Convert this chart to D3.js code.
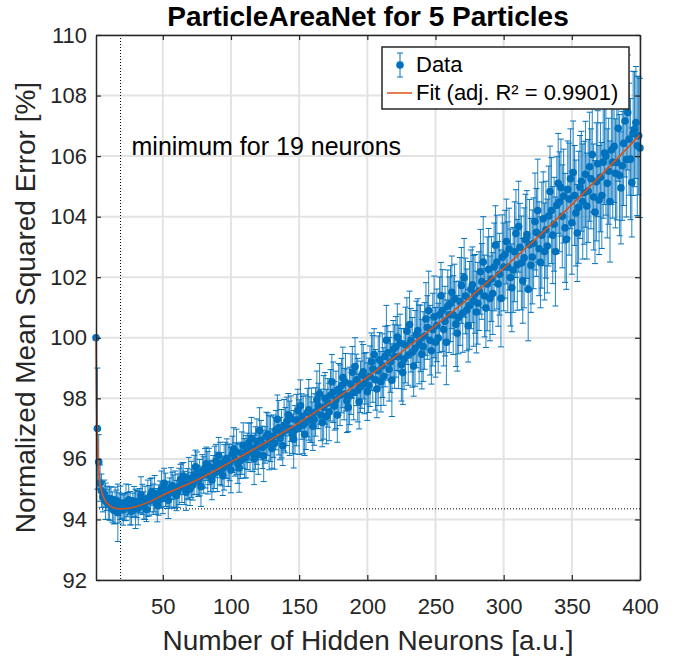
<!DOCTYPE html>
<html>
<head>
<meta charset="utf-8">
<script src="https://cdn.jsdelivr.net/npm/d3@7"></script>
<style>
  body { margin: 0; background: #fff; }
  svg { font-family: "Liberation Sans", Arial, sans-serif; }
</style>
</head>
<body>
<svg id="vis"></svg>
<script>
// hidden neuron counts 1..400
const neurons = d3.range(1, 401);

// mean normalized MSE [%] (rows of 10 neurons)
const mse = [
  100.00, 97.00, 95.90, 95.20, 94.95, 94.75, 94.85, 94.60, 94.70, 94.50,
  94.52, 94.68, 94.41, 94.30, 94.47, 94.62, 94.22, 94.38, 94.55, 94.44,
  94.31, 94.41, 94.57, 94.49, 94.65, 94.37, 94.27, 94.47, 94.59, 94.35,
  94.51, 94.37, 94.62, 94.81, 94.66, 94.46, 94.55, 94.33, 94.70, 94.62,
  94.80, 94.92, 94.67, 94.85, 94.57, 94.47, 94.64, 94.82, 95.00, 94.69,
  95.19, 94.98, 94.81, 94.63, 94.87, 95.06, 95.11, 94.92, 95.00, 94.79,
  94.95, 95.09, 95.32, 95.21, 95.43, 95.04, 94.90, 95.18, 95.35, 95.01,
  95.32, 95.14, 95.47, 95.74, 95.53, 95.26, 95.38, 95.08, 95.59, 95.47,
  95.69, 95.84, 95.54, 95.75, 95.42, 95.30, 95.51, 95.72, 95.93, 95.57,
  96.11, 95.85, 95.66, 95.44, 95.72, 95.95, 96.01, 95.79, 95.88, 95.63,
  96.15, 96.33, 95.98, 96.23, 95.84, 95.70, 95.95, 96.19, 96.44, 96.02,
  96.07, 96.25, 96.53, 96.39, 96.67, 96.18, 96.00, 96.36, 96.57, 96.14,
  96.94, 96.62, 96.38, 96.10, 96.46, 96.74, 96.82, 96.54, 96.66, 96.34,
  96.75, 96.51, 96.95, 97.31, 97.03, 96.67, 96.83, 96.43, 97.11, 96.95,
  97.24, 97.46, 97.01, 97.33, 96.83, 96.65, 96.96, 97.28, 97.60, 97.05,
  97.76, 97.40, 97.12, 96.81, 97.21, 97.53, 97.62, 97.30, 97.44, 97.08,
  97.30, 97.55, 97.95, 97.75, 98.15, 97.45, 97.20, 97.70, 98.00, 97.40,
  97.85, 97.55, 98.10, 98.55, 98.20, 97.75, 97.95, 97.45, 98.30, 98.10,
  98.42, 98.69, 98.14, 98.53, 97.92, 97.70, 98.08, 98.47, 98.86, 98.19,
  99.05, 98.61, 98.27, 97.89, 98.38, 98.77, 98.88, 98.49, 98.66, 98.22,
  98.43, 98.73, 99.21, 98.97, 99.45, 98.61, 98.31, 98.91, 99.27, 98.55,
  99.08, 98.72, 99.38, 99.92, 99.50, 98.96, 99.20, 98.60, 99.62, 99.38,
  99.70, 100.02, 99.37, 99.83, 99.11, 98.85, 99.30, 99.76, 100.22, 99.43,
  100.44, 99.92, 99.52, 99.07, 99.65, 100.11, 100.24, 99.78, 99.98, 99.46,
  99.71, 100.06, 100.62, 100.34, 100.90, 99.92, 99.57, 100.27, 100.69, 99.85,
  100.41, 99.99, 100.76, 101.39, 100.90, 100.27, 100.55, 99.85, 101.04, 100.76,
  101.13, 101.50, 100.75, 101.28, 100.45, 100.15, 100.67, 101.20, 101.73, 100.82,
  101.98, 101.38, 100.92, 100.40, 101.07, 101.60, 101.75, 101.22, 101.45, 100.85,
  101.14, 101.54, 102.18, 101.86, 102.50, 101.38, 100.98, 101.78, 102.26, 101.30,
  101.94, 101.46, 102.34, 103.06, 102.50, 101.78, 102.10, 101.30, 102.66, 102.34,
  102.76, 103.18, 102.33, 102.93, 101.99, 101.65, 102.24, 102.84, 103.44, 102.41,
  103.67, 102.99, 102.47, 101.88, 102.64, 103.24, 103.41, 101.60, 103.07, 102.39,
  102.67, 103.12, 103.84, 103.48, 104.20, 102.94, 102.49, 103.39, 103.93, 102.85,
  103.57, 103.03, 104.02, 104.83, 104.20, 103.39, 103.75, 102.85, 104.38, 105.10,
  104.49, 104.96, 104.01, 104.68, 103.63, 103.25, 104.90, 104.58, 105.25, 103.80,
  105.46, 104.70, 104.12, 103.46, 104.31, 104.98, 105.17, 104.50, 104.79, 105.40,
  104.35, 104.85, 105.65, 105.25, 106.05, 104.65, 104.15, 105.15, 105.75, 104.55,
  105.30, 104.70, 105.80, 106.10, 106.00, 105.10, 105.50, 104.50, 106.20, 105.80,
  106.32, 105.43, 105.79, 106.92, 105.37, 104.95, 105.68, 106.42, 107.16, 105.89,
  107.44, 106.56, 105.90, 105.13, 106.75, 106.89, 107.11, 106.34, 106.67, 106.27
];

// half length of each error bar [%]
const mseErr = [
  0.00, 2.00, 0.90, 0.60, 0.55, 0.50, 0.45, 0.60, 0.40, 0.50,
  0.55, 0.40, 0.50, 0.45, 0.60, 0.35, 0.95, 0.50, 0.55, 0.40,
  0.50, 0.45, 0.60, 0.40, 0.50, 0.55, 0.45, 0.40, 0.50, 0.65,
  0.45, 0.55, 0.40, 0.60, 0.50, 0.45, 0.55, 0.40, 0.60, 0.50,
  0.55, 0.45, 0.50, 0.60, 0.40, 0.55, 0.50, 0.45, 0.60, 0.50,
  0.50, 0.55, 0.45, 0.60, 0.50, 0.65, 0.45, 0.55, 0.60, 0.50,
  0.55, 0.60, 0.50, 0.65, 0.45, 0.55, 0.60, 0.50, 0.70, 0.55,
  0.60, 0.50, 0.65, 0.55, 0.70, 0.50, 0.60, 0.65, 0.55, 0.60,
  0.65, 0.55, 0.70, 0.60, 0.50, 0.65, 0.60, 0.70, 0.55, 0.65,
  0.60, 0.70, 0.55, 0.65, 0.75, 0.60, 0.65, 0.70, 0.60, 0.75,
  0.60, 0.70, 0.55, 0.75, 0.65, 0.80, 0.60, 0.70, 0.75, 0.65,
  0.70, 0.60, 0.65, 0.80, 0.70, 0.60, 0.85, 0.70, 0.75, 0.65,
  0.75, 0.65, 0.70, 0.85, 0.60, 0.80, 0.70, 0.90, 0.75, 0.65,
  0.70, 0.85, 0.65, 0.80, 0.90, 0.70, 0.80, 0.65, 0.85, 0.75,
  0.80, 0.70, 0.90, 0.75, 0.65, 0.95, 0.80, 0.85, 0.70, 0.90,
  0.85, 0.75, 0.95, 0.70, 0.90, 0.80, 1.00, 0.75, 0.90, 0.80,
  0.85, 0.80, 0.95, 0.75, 1.00, 0.85, 0.80, 1.05, 0.85, 0.90,
  0.80, 0.95, 0.85, 0.90, 1.00, 0.80, 0.95, 0.90, 0.85, 1.00,
  0.90, 1.00, 0.85, 0.95, 1.05, 0.80, 0.95, 1.00, 0.85, 0.90,
  0.95, 0.85, 1.05, 0.90, 0.85, 1.10, 0.90, 1.00, 0.85, 0.95,
  0.90, 1.00, 0.95, 1.10, 0.85, 1.00, 0.95, 1.15, 0.90, 1.00,
  1.05, 0.95, 1.00, 1.15, 0.90, 1.05, 1.00, 1.20, 0.95, 1.05,
  1.00, 1.10, 1.05, 0.95, 1.20, 1.05, 1.00, 1.25, 1.10, 1.00,
  1.10, 1.05, 1.15, 1.00, 1.25, 1.10, 1.05, 1.30, 1.10, 1.15,
  1.15, 1.10, 1.20, 1.05, 1.30, 1.15, 1.10, 1.20, 1.35, 1.15,
  1.20, 1.15, 1.25, 1.10, 1.35, 1.20, 1.15, 1.40, 1.20, 1.25,
  1.25, 1.20, 1.30, 1.15, 1.40, 1.25, 1.20, 1.45, 1.25, 1.30,
  1.30, 1.25, 1.35, 1.20, 1.45, 1.30, 1.25, 1.50, 1.30, 1.35,
  1.35, 1.30, 1.40, 1.25, 1.50, 1.35, 1.30, 1.55, 1.35, 1.40,
  1.40, 1.35, 1.45, 1.30, 1.55, 1.40, 1.35, 1.60, 1.40, 1.45,
  1.45, 1.40, 1.50, 1.35, 1.60, 1.45, 1.40, 1.65, 1.45, 1.50,
  1.50, 1.45, 1.55, 1.40, 1.65, 1.50, 1.45, 1.70, 1.50, 1.55,
  1.55, 1.50, 1.60, 1.45, 1.70, 1.55, 1.50, 1.75, 1.55, 1.60,
  1.60, 1.55, 1.65, 1.50, 1.75, 1.60, 1.55, 1.80, 1.60, 1.65,
  1.65, 1.60, 1.70, 1.55, 1.80, 1.65, 1.60, 1.85, 1.65, 1.70,
  1.70, 1.65, 1.75, 1.60, 1.85, 1.70, 1.65, 1.90, 1.70, 1.75,
  1.75, 1.70, 1.80, 1.65, 1.90, 1.75, 1.70, 1.95, 1.75, 1.80,
  1.80, 1.75, 1.85, 1.70, 1.95, 1.80, 1.75, 2.00, 1.80, 1.85,
  1.85, 1.80, 1.90, 1.75, 2.00, 1.85, 1.80, 2.05, 1.85, 1.90,
  1.90, 1.85, 2.00, 1.80, 2.05, 1.90, 1.85, 2.30, 1.95, 2.30
];

// fitted curve
const fitX = [1, 1.5, 2, 3, 4, 5, 6, 8, 10, 13, 16, 19, 25, 30, 40, 50, 75, 100, 150, 200, 250, 300, 350, 400];
const fitY = [100.0, 97.6, 96.7, 95.7, 95.2, 94.95, 94.8, 94.6, 94.5, 94.4, 94.36, 94.35, 94.37, 94.42, 94.58, 94.8, 95.3, 95.9, 97.2, 98.7, 100.4, 102.3, 104.4, 106.7];

const xTicks = [50, 100, 150, 200, 250, 300, 350, 400];
const yTicks = [92, 94, 96, 98, 100, 102, 104, 106, 108, 110];

const minNeurons = 19;
const minValue = 94.35;

const WIDTH = 684;
const HEIGHT = 659;
const margin = { top: 35, right: 44, bottom: 79, left: 96 };
const innerW = WIDTH - margin.left - margin.right;
const innerH = HEIGHT - margin.top - margin.bottom;

const BLUE = "#0072BD";
const ORANGE = "#D95319";
const AXIS = "#262626";

const svg = d3.select("#vis")
    .attr("width", WIDTH)
    .attr("height", HEIGHT);

const x = d3.scaleLinear().domain([1, 400]).range([0, innerW]);
const y = d3.scaleLinear().domain([92, 110]).range([innerH, 0]);

const g = svg.append("g").attr("transform", `translate(${margin.left},${margin.top})`);

svg.append("defs").append("clipPath").attr("id", "clip")
    .append("rect").attr("x", -6).attr("width", innerW + 12).attr("height", innerH);

// grid
g.append("g").selectAll("line").data(xTicks).join("line")
    .attr("x1", d => x(d)).attr("x2", d => x(d))
    .attr("y1", 0).attr("y2", innerH)
    .attr("stroke", "#e3e3e3").attr("stroke-width", 2);
g.append("g").selectAll("line").data(yTicks).join("line")
    .attr("x1", 0).attr("x2", innerW)
    .attr("y1", d => y(d)).attr("y2", d => y(d))
    .attr("stroke", "#e3e3e3").attr("stroke-width", 2);

// minimum markers (under the data)
g.append("line")
    .attr("x1", x(minNeurons)).attr("x2", x(minNeurons))
    .attr("y1", 0).attr("y2", innerH)
    .attr("stroke", "#000").attr("stroke-width", 1).attr("stroke-dasharray", "1,2");
g.append("line")
    .attr("x1", 0).attr("x2", innerW)
    .attr("y1", y(minValue)).attr("y2", y(minValue))
    .attr("stroke", "#000").attr("stroke-width", 1).attr("stroke-dasharray", "1,2");

// data with error bars
const data = neurons.map((n, i) => ({ n: n, v: mse[i], e: mseErr[i] }));
const plot = g.append("g").attr("clip-path", "url(#clip)");

const bars = plot.append("g").attr("stroke", BLUE).attr("stroke-width", 1);
bars.selectAll("line.v").data(data).join("line").attr("class", "v")
    .attr("x1", d => x(d.n)).attr("x2", d => x(d.n))
    .attr("y1", d => y(d.v - d.e)).attr("y2", d => y(d.v + d.e))
    .attr("stroke-opacity", 0.85);
bars.selectAll("line.t").data(data.filter(d => d.e > 0)).join("line").attr("class", "t")
    .attr("x1", d => x(d.n) - 3).attr("x2", d => x(d.n) + 3)
    .attr("y1", d => y(d.v + d.e)).attr("y2", d => y(d.v + d.e));
bars.selectAll("line.b").data(data.filter(d => d.e > 0)).join("line").attr("class", "b")
    .attr("x1", d => x(d.n) - 3).attr("x2", d => x(d.n) + 3)
    .attr("y1", d => y(d.v - d.e)).attr("y2", d => y(d.v - d.e));

plot.append("g").selectAll("circle").data(data).join("circle")
    .attr("cx", d => x(d.n)).attr("cy", d => y(d.v))
    .attr("r", 3.8).attr("fill", BLUE);

// fit curve
const fit = fitX.map((v, i) => [v, fitY[i]]);
plot.append("path").datum(fit)
    .attr("fill", "none").attr("stroke", ORANGE).attr("stroke-width", 1.6)
    .attr("d", d3.line().x(d => x(d[0])).y(d => y(d[1])).curve(d3.curveMonotoneX));

g.append("text")
    .attr("x", x(minNeurons) + 11).attr("y", y(106.05))
    .attr("font-size", 25).attr("fill", "#000")
    .text(`minimum for ${minNeurons} neurons`);

// axes
const ejeX = g.append("g").attr("transform", `translate(0,${innerH})`)
    .call(d3.axisBottom(x).tickValues(xTicks).tickSizeInner(-5).tickSizeOuter(0).tickPadding(18));
const ejeXTop = g.append("g")
    .call(d3.axisTop(x).tickValues(xTicks).tickSizeInner(-5).tickSizeOuter(0).tickFormat(""));
const ejeY = g.append("g")
    .call(d3.axisLeft(y).tickValues(yTicks).tickSizeInner(-5).tickSizeOuter(0).tickPadding(9));
const ejeYRight = g.append("g").attr("transform", `translate(${innerW},0)`)
    .call(d3.axisRight(y).tickValues(yTicks).tickSizeInner(-5).tickSizeOuter(0).tickFormat(""));

[ejeX, ejeXTop, ejeY, ejeYRight].forEach(a => {
    a.select(".domain").attr("stroke", AXIS).attr("stroke-width", 1.5);
    a.selectAll(".tick line").attr("stroke", AXIS).attr("stroke-width", 1.2);
    a.selectAll("text").attr("fill", AXIS).attr("font-size", 22)
        .attr("font-family", "Liberation Sans, Arial, sans-serif");
});

// titles
svg.append("text")
    .attr("x", margin.left + innerW / 2).attr("y", 26)
    .attr("text-anchor", "middle").attr("font-size", 28).attr("font-weight", "bold")
    .attr("fill", "#000")
    .text("ParticleAreaNet for 5 Particles");

svg.append("text")
    .attr("x", margin.left + innerW / 2).attr("y", 650)
    .attr("text-anchor", "middle").attr("font-size", 28).attr("fill", AXIS)
    .text("Number of Hidden Neurons [a.u.]");

svg.append("text")
    .attr("transform", `translate(35,${margin.top + innerH / 2}) rotate(-90)`)
    .attr("text-anchor", "middle").attr("font-size", 28).attr("fill", AXIS)
    .text("Normalized Mean Squared Error [%]");

// legend
const leg = svg.append("g").attr("transform", "translate(382,47)");
leg.append("rect").attr("width", 247).attr("height", 62)
    .attr("fill", "#fff").attr("stroke", AXIS).attr("stroke-width", 1.5);
const iconX = 18;
leg.append("line").attr("x1", iconX).attr("x2", iconX).attr("y1", 6).attr("y2", 30)
    .attr("stroke", BLUE).attr("stroke-width", 1);
[6, 30].forEach(cy => leg.append("line")
    .attr("x1", iconX - 3).attr("x2", iconX + 3).attr("y1", cy).attr("y2", cy)
    .attr("stroke", BLUE).attr("stroke-width", 1));
leg.append("circle").attr("cx", iconX).attr("cy", 18).attr("r", 3.8).attr("fill", BLUE);
leg.append("text").attr("x", 34).attr("y", 25).attr("font-size", 22).attr("fill", "#000").text("Data");
leg.append("line").attr("x1", 5).attr("x2", 30).attr("y1", 46).attr("y2", 46)
    .attr("stroke", ORANGE).attr("stroke-width", 1.5);
leg.append("text").attr("x", 34).attr("y", 53).attr("font-size", 22).attr("fill", "#000")
    .text("Fit (adj. R² = 0.9901)");
</script>
</body>
</html>
